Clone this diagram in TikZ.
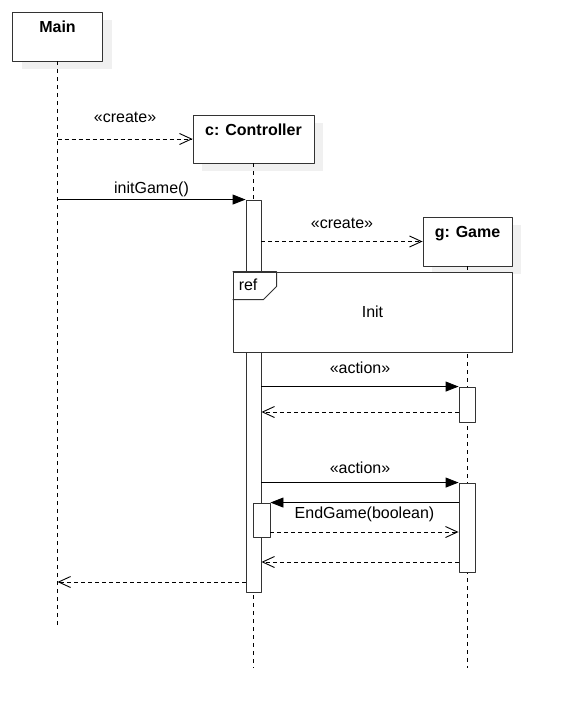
\documentclass[tikz,border=0pt]{standalone}
\usepackage{fontspec}
\setmainfont{Liberation Sans}
\usetikzlibrary{arrows.meta,shadows}

\tikzset{
  obj/.style={draw=black!80, fill=white, line width=0.9pt,
    drop shadow={shadow xshift=9pt, shadow yshift=-8pt, fill=black!6, opacity=1}},
  objname/.style={anchor=base, yshift=-21pt, inner sep=0pt,
    font=\fontsize{16}{19}\selectfont\bfseries},
  act/.style={draw=black!80, fill=white, line width=0.9pt, inner sep=0pt},
  lifeline/.style={line width=0.9pt, dash pattern=on 4pt off 4pt},
  call/.style={line width=0.9pt, -{Triangle[length=13pt,width=10pt]}},
  reply/.style={line width=0.9pt, dash pattern=on 4pt off 3pt,
    -{Straight Barb[length=12pt,width=11pt]}},
  msglbl/.style={anchor=base, inner sep=0pt},
}

\begin{document}
\begin{tikzpicture}[x=1pt,y=-1pt,line join=round,font=\fontsize{16}{19}\selectfont]

  \useasboundingbox (0,0) rectangle (562,720);

  % ---- gli oggetti ----------------------------------------------------------
  \node[obj, minimum width=90pt, minimum height=49pt,
        label={[objname]north:Main}] (main) at (57.5,36.5) {};
  \node[obj, minimum width=121pt, minimum height=48pt,
        label={[objname]north:c: Controller}] (ctrl) at (253.5,139) {};
  \node[obj, minimum width=89pt, minimum height=49pt,
        label={[objname]north:g: Game}] (game) at (467.5,241.5) {};

  % ---- le linee di vita -----------------------------------------------------
  \draw[lifeline] (main.south) -- ++(0,567);
  \draw[lifeline] (ctrl.south) -- ++(0,505);
  \draw[lifeline] (game.south) -- ++(0,402);

  % ---- le barre di attivazione ----------------------------------------------
  \node[act, minimum width=15pt, minimum height=392pt] (actC)  at (253.5,396) {};
  \node[act, minimum width=16pt, minimum height=35pt]  (actG1) at (467,404.5) {};
  \node[act, minimum width=16pt, minimum height=89pt]  (actG2) at (467,527.5) {};
  \node[act, minimum width=17pt, minimum height=34pt]  (actC2) at (261.5,520) {};

  % ---- il riquadro ref ------------------------------------------------------
  \node[draw=black!80, fill=white, line width=0.9pt,
        minimum width=279pt, minimum height=80pt] (refbox) at (372.5,312) {Init};
  \draw[line width=0.9pt, draw=black!80]
    (refbox.north west) -- ++(44,0) -- ++(0,15) -- ++(-13,13) -- ++(-31,0);
  \node[anchor=base west, inner sep=0pt] (reftag)
    at ([shift={(6,19)}]refbox.north west) {ref};

  % ---- le quote dei ritorni -------------------------------------------------
  \coordinate (r1) at (0,412);
  \coordinate (r2) at (0,532);
  \coordinate (r3) at (0,562);
  \coordinate (r4) at (0,582);

  % ---- i messaggi -----------------------------------------------------------
  \draw[reply] (main.south |- ctrl.west)
    -- node[msglbl, yshift=17pt] {«create»} (ctrl.west);
  \draw[call] (main.south |- actC.north)
    -- node[msglbl, yshift=6pt] {initGame()} (actC.north west);
  \draw[reply] (actC.east |- game.west)
    -- node[msglbl, yshift=13pt] {«create»} (game.west);

  \draw[call] (actC.east |- actG1.north)
    -- node[msglbl, yshift=13pt] {«action»} (actG1.north west);
  \draw[reply] (actG1.west |- r1) -- (actC.east |- r1);

  \draw[call] (actC.east |- actG2.north)
    -- node[msglbl, yshift=9pt] {«action»} (actG2.north west);
  \draw[call] (actG2.west |- actC2.north)
    -- node[msglbl, yshift=-16pt] {EndGame(boolean)} (actC2.north east);
  \draw[reply] (actC2.east |- r2) -- (actG2.west |- r2);
  \draw[reply] (actG2.west |- r3) -- (actC.east |- r3);

  \draw[reply] (actC.west |- r4) -- (main.south |- r4);

\end{tikzpicture}
\end{document}
